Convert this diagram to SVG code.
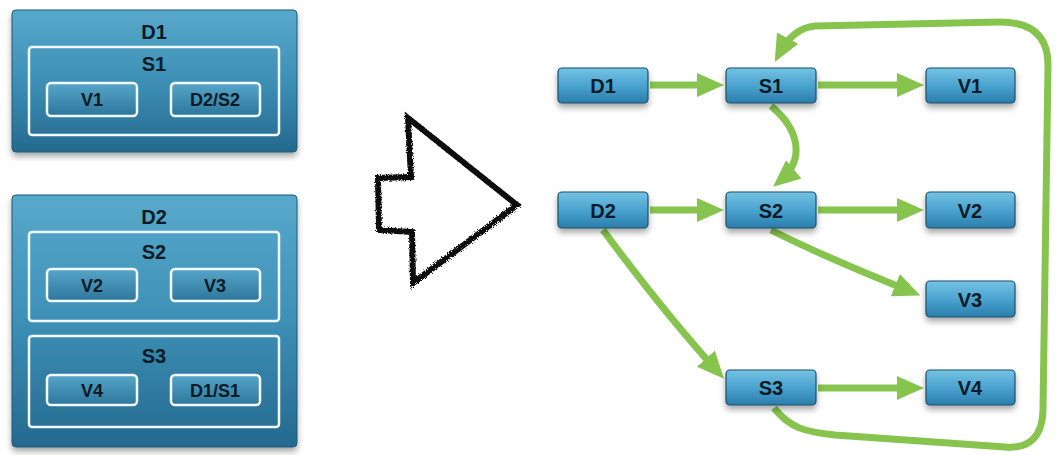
<svg xmlns="http://www.w3.org/2000/svg" width="1057" height="455" viewBox="0 0 1057 455">
<defs>
<style>
.big{fill:url(#gBig);stroke:#1d5b78;stroke-width:1;filter:url(#sh)}
.inner{fill:none;stroke:#f2f8fb;stroke-width:2.5}
.leaf{fill:url(#gLeaf);stroke:#f2f8fb;stroke-width:2.5}
.node{fill:url(#gNode);stroke:#1b4f68;stroke-width:1.2;filter:url(#sh)}
.t{font-family:"Liberation Sans",Arial,sans-serif;font-weight:bold;fill:#0b1a24;text-anchor:middle}
.t1{font-size:20px}
.t2{font-size:18px}
.e{fill:none;stroke:#86c44e;stroke-width:7;marker-end:url(#ah)}
</style>
<linearGradient id="gBig" x1="0" y1="0" x2="0" y2="1">
<stop offset="0" stop-color="#58a9cb"/>
<stop offset="0.5" stop-color="#3d8fb6"/>
<stop offset="1" stop-color="#25698e"/>
</linearGradient>
<linearGradient id="gLeaf" x1="0" y1="0" x2="0" y2="1">
<stop offset="0" stop-color="#56a6c8"/>
<stop offset="1" stop-color="#2d769c"/>
</linearGradient>
<linearGradient id="gNode" x1="0" y1="0" x2="0" y2="1">
<stop offset="0" stop-color="#74c3e4"/>
<stop offset="0.5" stop-color="#4ba3cf"/>
<stop offset="1" stop-color="#2a7eab"/>
</linearGradient>
<filter id="sh" x="-20%" y="-20%" width="140%" height="160%">
<feDropShadow dx="0" dy="4" stdDeviation="3" flood-color="#000" flood-opacity="0.35"/>
</filter>
<filter id="rough" x="-10%" y="-10%" width="120%" height="120%">
<feTurbulence type="fractalNoise" baseFrequency="0.8" numOctaves="2" seed="3"/>
<feDisplacementMap in="SourceGraphic" scale="4"/>
</filter>
<marker id="ah" markerUnits="userSpaceOnUse" markerWidth="28" markerHeight="26" refX="18" refY="12" orient="auto">
<path d="M0,0 L27,12 L0,24 z" fill="#86c44e"/>
</marker>
</defs>
<rect width="1057" height="455" fill="#ffffff"/>

<g id="left-D1">
<rect class="big" x="12" y="10" width="285" height="142" rx="4"/>
<text class="t t1" x="154" y="39">D1</text>
<rect class="inner" x="29" y="47" width="250" height="88" rx="3"/>
<text class="t t1" x="154" y="71">S1</text>
<rect class="leaf" x="47" y="83" width="90" height="33" rx="4"/>
<text class="t t2" x="92" y="106">V1</text>
<rect class="leaf" x="171" y="83" width="89" height="33" rx="4"/>
<text class="t t2" x="215" y="106">D2/S2</text>
</g>

<g id="left-D2">
<rect class="big" x="12" y="195" width="285" height="252" rx="4"/>
<text class="t t1" x="154" y="224">D2</text>
<rect class="inner" x="29" y="232" width="250" height="89" rx="3"/>
<text class="t t1" x="154" y="259">S2</text>
<rect class="leaf" x="47" y="269" width="90" height="32" rx="4"/>
<text class="t t2" x="92" y="292">V2</text>
<rect class="leaf" x="171" y="269" width="89" height="32" rx="4"/>
<text class="t t2" x="215" y="292">V3</text>
<rect class="inner" x="29" y="336" width="250" height="91" rx="3"/>
<text class="t t1" x="154" y="363">S3</text>
<rect class="leaf" x="47" y="375" width="90" height="30" rx="4"/>
<text class="t t2" x="92" y="397">V4</text>
<rect class="leaf" x="171" y="375" width="89" height="30" rx="4"/>
<text class="t t2" x="215" y="397">D1/S1</text>
</g>

<g id="big-arrow">
<path d="M408,118 L411,177 L378,178 L379,230 L412,232 L413,283 L517,205 Z" fill="none" stroke="#111" stroke-width="6" stroke-linejoin="miter" filter="url(#rough)"/>
</g>

<g id="connectors">
<path class="e" d="M650,85 L715,85"/>
<path class="e" d="M818,85 L915,85"/>
<path class="e" d="M650,210 L715,210"/>
<path class="e" d="M818,210 L915,210"/>
<path class="e" d="M771,106 C800,130 805,160 780,181"/>
<path class="e" d="M771,230 C820,255 870,275 912,292"/>
<path class="e" d="M603,230 C640,280 680,330 718,372"/>
<path class="e" d="M818,388 L915,388"/>
<path class="e" d="M774,408 C790,428 805,432 835,435 L1005,447 Q1042,450 1043,410 L1048,65 Q1048,22 1000,22 L815,26 Q793,28 779,54"/>
</g>

<g id="node-D1"><rect class="node" x="558" y="68" width="90" height="35" rx="4"/><text class="t t1" x="603" y="93">D1</text></g>
<g id="node-S1"><rect class="node" x="726" y="68" width="90" height="35" rx="4"/><text class="t t1" x="771" y="93">S1</text></g>
<g id="node-V1"><rect class="node" x="926" y="68" width="89" height="35" rx="4"/><text class="t t1" x="970" y="93">V1</text></g>
<g id="node-D2"><rect class="node" x="558" y="192" width="90" height="36" rx="4"/><text class="t t1" x="603" y="218">D2</text></g>
<g id="node-S2"><rect class="node" x="726" y="192" width="90" height="36" rx="4"/><text class="t t1" x="771" y="218">S2</text></g>
<g id="node-V2"><rect class="node" x="926" y="192" width="89" height="36" rx="4"/><text class="t t1" x="970" y="218">V2</text></g>
<g id="node-V3"><rect class="node" x="926" y="281" width="89" height="36" rx="4"/><text class="t t1" x="970" y="307">V3</text></g>
<g id="node-S3"><rect class="node" x="726" y="370" width="90" height="35" rx="4"/><text class="t t1" x="771" y="395">S3</text></g>
<g id="node-V4"><rect class="node" x="926" y="370" width="89" height="35" rx="4"/><text class="t t1" x="970" y="395">V4</text></g>
</svg>
